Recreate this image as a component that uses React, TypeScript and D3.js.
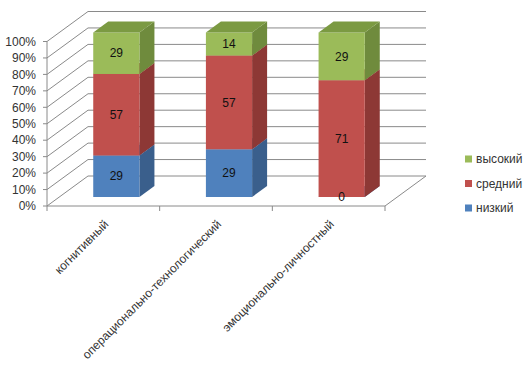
import * as d3 from "d3"

const categories = ["когнитивный", "операционально-технологический", "эмоционально-личностный"]
const seriesNames = ["низкий", "средний", "высокий"]
const low = [29, 29, 0]
const mid = [57, 57, 71]
const high = [29, 14, 29]
const percentTicks = [0, 0.1, 0.2, 0.3, 0.4, 0.5, 0.6, 0.7, 0.8, 0.9, 1]

const colors: Record<string, { front: string; side: string; top: string }> = {
  низкий: { front: "#4F81BD", side: "#3A5F8C", top: "#4572AA" },
  средний: { front: "#C0504D", side: "#8D3835", top: "#A64441" },
  высокий: { front: "#9BBB59", side: "#6F8B3D", top: "#7B9A42" },
}

const W = 528
const H = 366
const depth = { dx: 41, dy: -30 } // wall/floor depth
const barOff = { dx: 13, dy: -9 } // bar front plane offset into the depth
const barDepth = { dx: 15, dy: -11 }
const font = "'Liberation Sans', Arial, sans-serif"
const gridColor = "#8a8a8a"
const textColor = "#333"

export default function App() {
  const x = d3.scaleBand<string>().domain(categories).range([47, 385])
  const y = d3.scaleLinear().domain([0, 1]).range([206, 41.5])
  const barW = x.bandwidth() * 0.41

  const rows = categories.map((c, i) => ({ cat: c, низкий: low[i], средний: mid[i], высокий: high[i] }))
  const stacked = d3
    .stack<any>()
    .keys(seriesNames)
    .offset(d3.stackOffsetExpand)(rows)

  const values: Record<string, number[]> = { низкий: low, средний: mid, высокий: high }

  const backRight = x.range()[1] + depth.dx
  const legendY = d3.scalePoint<string>().domain([...seriesNames].reverse()).range([159, 208])

  const pts = (p: [number, number][]) => p.map((d) => d.join(",")).join(" ")

  return (
    <svg width={W} height={H} style={{ position: "absolute", left: 0, top: 0, background: "#fff" }} fontFamily={font}>
      {/* walls: gridlines across the left wall and back wall */}
      {percentTicks.map((t) => {
        const yy = y(t)
        return (
          <polyline
            key={t}
            points={pts([
              [47, yy],
              [47 + depth.dx, yy + depth.dy],
              [backRight, yy + depth.dy],
            ])}
            fill="none"
            stroke={gridColor}
            strokeWidth={1}
          />
        )
      })}
      {/* floor */}
      <polyline
        points={pts([
          [47, y(0)],
          [x.range()[1], y(0)],
          [backRight, y(0) + depth.dy],
        ])}
        fill="none"
        stroke={gridColor}
      />
      {/* value axis */}
      <line x1={47} x2={47} y1={y(0)} y2={y(1)} stroke={gridColor} />
      {percentTicks.map((t) => (
        <g key={"t" + t}>
          <line x1={43} x2={47} y1={y(t)} y2={y(t)} stroke={gridColor} />
          <text x={36} y={y(t)} dy="0.35em" textAnchor="end" fontSize={12} fill={textColor}>
            {d3.format(".0%")(t)}
          </text>
        </g>
      ))}
      {/* category ticks */}
      {[...categories.map((c) => x(c)!), x.range()[1]].map((tx, i) => (
        <line key={"c" + i} x1={tx} x2={tx} y1={y(0)} y2={y(0) + 5} stroke={gridColor} />
      ))}
      {/* bars */}
      {categories.map((c, ci) => {
        const fx0 = x(c)! + x.bandwidth() / 2 - barW / 2 + barOff.dx
        const fx1 = fx0 + barW
        return (
          <g key={c}>
            {stacked.map((s) => {
              const seg = s[ci]
              const yt = y(seg[1]) + barOff.dy
              const yb = y(seg[0]) + barOff.dy
              const col = colors[s.key]
              return (
                <g key={s.key}>
                  <polygon
                    points={pts([
                      [fx1, yb],
                      [fx1 + barDepth.dx, yb + barDepth.dy],
                      [fx1 + barDepth.dx, yt + barDepth.dy],
                      [fx1, yt],
                    ])}
                    fill={col.side}
                  />
                  <rect x={fx0} y={yt} width={barW} height={yb - yt} fill={col.front} />
                  <polygon
                    points={pts([
                      [fx0, yt],
                      [fx1, yt],
                      [fx1 + barDepth.dx, yt + barDepth.dy],
                      [fx0 + barDepth.dx, yt + barDepth.dy],
                    ])}
                    fill={col.top}
                  />
                </g>
              )
            })}
            {stacked.map((s) => {
              const seg = s[ci]
              const yt = y(seg[1]) + barOff.dy
              const yb = y(seg[0]) + barOff.dy
              return (
                <text
                  key={"l" + s.key}
                  x={(fx0 + fx1) / 2}
                  y={(yt + yb) / 2}
                  dy="0.35em"
                  textAnchor="middle"
                  fontSize={12}
                  fill="#111"
                >
                  {values[s.key][ci]}
                </text>
              )
            })}
          </g>
        )
      })}
      {/* category labels */}
      {categories.map((c) => (
        <text
          key={"cl" + c}
          transform={`translate(${x(c)! + x.bandwidth() / 2 + 6},${y(0) + 19}) rotate(-45)`}
          textAnchor="end"
          fontSize={12}
          fill={textColor}
        >
          {c}
        </text>
      ))}
      {/* legend */}
      {seriesNames.map((s) => (
        <g key={"lg" + s} transform={`translate(465,${legendY(s)})`}>
          <rect x={0} y={-3.5} width={7} height={7} fill={colors[s].front} />
          <text x={11} y={0} dy="0.35em" fontSize={12} fill={textColor}>
            {s}
          </text>
        </g>
      ))}
    </svg>
  )
}
